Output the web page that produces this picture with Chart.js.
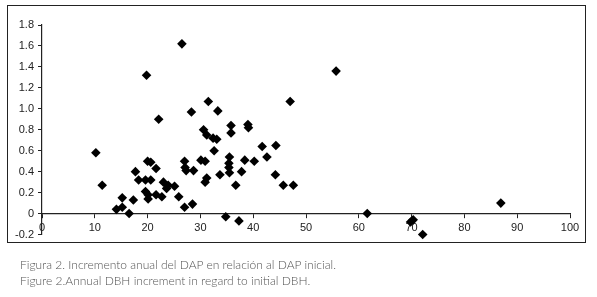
<!DOCTYPE html>
<html>
<head>
<meta charset="utf-8">
<script src="https://cdn.jsdelivr.net/npm/chart.js@4/dist/chart.umd.min.js"></script>
<style>
  body { margin: 0; background: #fff; }
  #wrap { position: relative; width: 597px; height: 297px; }
  #frame { position: absolute; left: 7px; top: 5px; width: 577px; height: 236px; border: 1.5px solid #222; }
  #c { position: absolute; left: 0; top: 0; }
  .cap { position: absolute; left: 20px; font-family: "Lato", "DejaVu Sans", sans-serif; font-weight: 300; font-size: 12px; color: #555; white-space: nowrap; }
</style>
</head>
<body>
<div id="wrap">
  <div id="frame"></div>
  <canvas id="c" width="597" height="297"></canvas>
  <div class="cap" style="top:257px">Figura 2. Incremento anual del DAP en relación al DAP inicial.</div>
  <div class="cap" style="top:273px">Figure 2.Annual DBH increment in regard to initial DBH.</div>
</div>
<script>
// initial DBH (x) and annual increment (y)
const dbh = [10.2, 11.4, 14.1, 15.2, 15.2, 16.5, 17.3, 17.7, 18.3, 19.6, 19.8, 20.0, 20.6, 20.6, 19.6, 20.1, 20.1,
  21.6, 21.6, 22.1, 22.7, 23.0, 23.6, 23.9, 25.1, 25.9, 26.5, 27.0, 27.0, 27.1, 27.3, 28.3, 28.5, 28.7,
  30.1, 30.9, 31.2, 30.9, 30.6, 31.2, 31.5, 32.4, 33.1, 32.6, 33.3, 33.7, 34.8, 35.5, 35.4, 35.4, 35.5,
  35.8, 35.8, 36.7, 37.3, 37.8, 38.4, 39.0, 39.1, 40.2, 41.7, 42.6, 44.3, 44.2, 45.7, 47.0, 47.6,
  55.7, 61.6, 69.8, 70.3, 72.1, 86.9]
const increment = [0.58, 0.27, 0.04, 0.06, 0.15, 0.00, 0.13, 0.40, 0.32, 0.32, 1.32, 0.50, 0.49, 0.32, 0.21, 0.18, 0.14,
  0.43, 0.18, 0.90, 0.16, 0.30, 0.24, 0.27, 0.26, 0.16, 1.62, 0.06, 0.50, 0.44, 0.41, 0.97, 0.09, 0.41,
  0.51, 0.50, 0.34, 0.30, 0.80, 0.75, 1.07, 0.72, 0.71, 0.60, 0.98, 0.37, -0.03, 0.54, 0.48, 0.44, 0.39,
  0.84, 0.77, 0.27, -0.07, 0.40, 0.51, 0.85, 0.82, 0.50, 0.64, 0.54, 0.65, 0.37, 0.27, 1.07, 0.27,
  1.36, 0.00, -0.08, -0.06, -0.20, 0.10]

const xTicks = [0, 10, 20, 30, 40, 50, 60, 70, 80, 90, 100]
const yTicks = [-0.2, 0, 0.2, 0.4, 0.6, 0.8, 1, 1.2, 1.4, 1.6, 1.8]

const points = dbh.map((x, i) => ({ x: x, y: increment[i] }))

const tickFont = { family: 'Liberation Sans', size: 11 }

new Chart(document.getElementById('c'), {
  type: 'scatter',
  data: {
    datasets: [{
      data: points,
      clip: false,
      pointStyle: 'rectRot',
      pointRadius: 4.8,
      backgroundColor: '#000',
      borderColor: '#000',
      borderWidth: 0
    }]
  },
  options: {
    responsive: false,
    animation: false,
    layout: { padding: { left: 7, top: 25, right: 27, bottom: 62.5 } },
    plugins: { legend: { display: false }, tooltip: { enabled: false } },
    scales: {
      x: {
        type: 'linear',
        min: 0,
        max: 100,
        position: { y: 0 },
        afterFit: s => { s.height = 0 },
        afterBuildTicks: s => { s.ticks = xTicks.map(v => ({ value: v })) },
        grid: { drawOnChartArea: false, drawTicks: true, tickLength: 4, color: '#222' },
        border: { display: true, color: '#222', width: 1.2 },
        ticks: { color: '#222', font: tickFont, padding: 4, maxRotation: 0 }
      },
      y: {
        min: -0.2,
        max: 1.8,
        afterFit: s => { s.width = 35 },
        afterBuildTicks: s => { s.ticks = yTicks.map(v => ({ value: v })) },
        grid: { drawOnChartArea: false, drawTicks: true, tickLength: 4, color: '#222' },
        border: { display: true, color: '#222', width: 1.2 },
        ticks: { color: '#222', font: tickFont, padding: 4 }
      }
    }
  }
})
</script>
</body>
</html>
